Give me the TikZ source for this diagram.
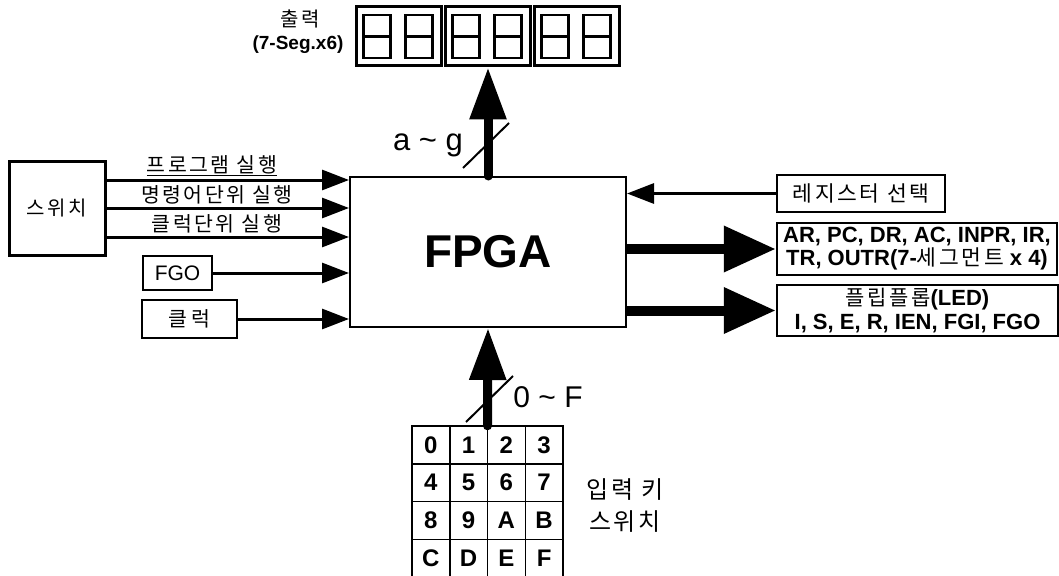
\documentclass[tikz,border=0pt]{standalone}
\usepackage{fontspec}
\setmainfont{Liberation Sans}
\newfontfamily\kr[LetterSpace=12]{Noto Sans CJK KR}
\usetikzlibrary{arrows.meta,calc}
\begin{document}
\begin{tikzpicture}[x=1pt,y=-1pt,
  box/.style={draw,line width=2.5pt,inner sep=0pt,rectangle},
  thinarr/.style={line width=3pt,-{Triangle[length=27pt,width=20pt]}},
  bigarr/.style={line width=9pt,line cap=round,-{Triangle[length=52pt,width=35pt]}},
  sidearr/.style={line width=10pt,-{Triangle[length=52pt,width=44pt]}},
  slashline/.style={line width=2pt},
  lbl/.style={inner sep=0pt},
  krl/.style={inner sep=0pt,font=\kr\fontsize{20.5}{22}\selectfont},
  keycell/.style={draw,line width=1.5pt,minimum size=37.75pt,inner sep=0pt,font=\bfseries\fontsize{24}{26}\selectfont},
  segdigit/.style={line width=2.7pt},
]
\useasboundingbox (0,0) rectangle (1059,575);

% FPGA
\node[box,line width=2pt,minimum width=276pt,minimum height=150pt] (fpga) at (488,252) {\fontsize{46}{50}\selectfont\bfseries FPGA};

% left switch block
\node[box,line width=3pt,minimum width=96pt,minimum height=94pt,font=\kr\fontsize{20}{22}\selectfont] (sw) at (57,208) {스위치};
\coordinate (l1) at ($(sw.east)+(0,-28)$);
\coordinate (l2) at (sw.east);
\coordinate (l3) at ($(sw.east)+(0,29)$);
\draw[thinarr] (l1) -- (l1 -| fpga.west);
\draw[thinarr] (l2) -- (l2 -| fpga.west);
\draw[thinarr] (l3) -- (l3 -| fpga.west);
\node[krl] (t1) at (212,166) {\underline{프로그램 실행}};
\node[krl] (t2) at (217,195) {명령어단위 실행};
\node[krl] (t3) at (217,224) {클럭단위 실행};

\node[box,minimum width=69pt,minimum height=34pt,font=\fontsize{21}{24}\selectfont] (fgo) at (177.5,273) {FGO};
\draw[thinarr] (fgo.east) -- (fgo.east -| fpga.west);
\node[box,minimum width=95pt,minimum height=38pt,font=\kr\fontsize{20.5}{22}\selectfont] (clk) at (189.5,319) {클\kern4pt 럭};
\draw[thinarr] (clk.east) -- (clk.east -| fpga.west);

% right side
\node[box,minimum width=168pt,minimum height=37pt,font=\kr\fontsize{21.5}{23}\selectfont] (reg) at (861,193.5) {레지스터 선택};
\draw[thinarr] (reg.west) -- (reg.west -| fpga.east);
\node[box,minimum width=280pt,minimum height=52pt,align=center,font=\bfseries\fontsize{22}{23}\selectfont] (regs) at (917,249)
  {AR, PC, DR, AC, INPR, IR,\\TR, OUTR(7-{\kr\mdseries\fontsize{21.5}{23}\selectfont 세그먼트} x 4)};
\draw[sidearr] (regs.west -| fpga.east) -- (regs.west);
\node[box,minimum width=281pt,minimum height=51pt,align=center,font=\bfseries\fontsize{22}{24}\selectfont] (ff) at (917.5,310.5)
  {{\kr\mdseries\fontsize{21}{24}\selectfont 플립플롭}(LED)\\I, S, E, R, IEN, FGI, FGO};
\draw[sidearr] (ff.west -| fpga.east) -- (ff.west);

% 7-segment display
\foreach \i/\cx in {1/399,2/488,3/577}{
  \node[box,line width=3pt,minimum width=85pt,minimum height=59pt] (seg\i) at (\cx,36.5) {};
  \draw[segdigit] (\cx-35.5,15) rectangle (\cx-8.5,58);
  \draw[segdigit] (\cx-35.5,36.5) -- (\cx-8.5,36.5);
  \draw[segdigit] (\cx+6.5,15) rectangle (\cx+33.5,58);
  \draw[segdigit] (\cx+6.5,36.5) -- (\cx+33.5,36.5);
}
\node[lbl,font=\kr\fontsize{20}{22}\selectfont] (outlbl) at (300,19) {출력};
\node[lbl,font=\bfseries\fontsize{19}{21}\selectfont] (seglbl) at (298,45) {(7-Seg.x6)};
\draw[bigarr] (fpga.north) -- (seg2.south);
\draw[slashline] (463,168) -- (509,123);
\node[lbl,font=\fontsize{31}{34}\selectfont] (ag) at (428,145) {a \textasciitilde{} g};

% keypad
\node[minimum width=151pt,minimum height=151pt,inner sep=0pt] (kp) at (487.5,501.5) {};
\foreach \r/\row in {0/{0,1,2,3},1/{4,5,6,7},2/{8,9,A,B},3/{C,D,E,F}}{
  \foreach \k [count=\c from 0] in \row {
    \node[keycell] (k\r\c) at (412+37.75*\c+18.875, 426+37.75*\r+18.875) {\k};
  }
}
\draw[bigarr] (kp.north) -- (fpga.south);
\draw[slashline] (466,422) -- (513,376);
\node[lbl,font=\fontsize{30}{33}\selectfont] (of) at (548,397) {0 \textasciitilde{} F};
\node[lbl,align=center,font=\kr\fontsize{24}{32}\selectfont] (kplbl) at (625,506) {입력 키\\스위치};
\end{tikzpicture}
\end{document}
